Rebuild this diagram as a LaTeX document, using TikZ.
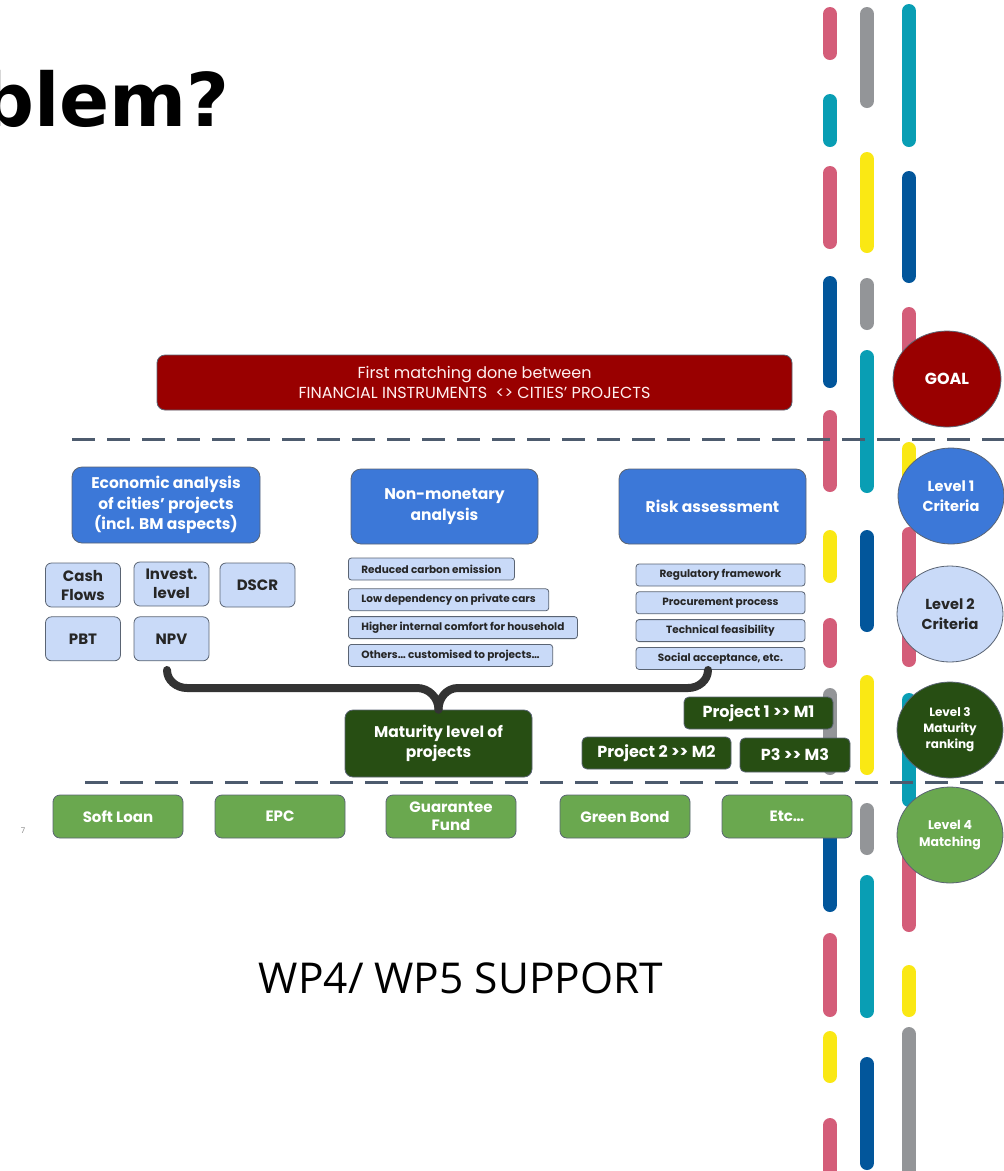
\documentclass[tikz,border=0pt]{standalone}
\usepackage{fontspec}
\setmainfont{Open Sans}
\newfontfamily\gothic{Poppins}
\newfontfamily\headfont{DejaVu Sans}
\usepackage{tikz}
\usetikzlibrary{shapes,positioning}
\definecolor{goalred}{RGB}{153, 0, 0}
\definecolor{critblue}{RGB}{60, 120, 216}
\definecolor{critlight}{RGB}{201, 218, 248}
\definecolor{darkgreen}{RGB}{39, 78, 19}
\definecolor{lightgreen}{RGB}{106, 168, 79}
\definecolor{edgegray}{RGB}{90, 100, 115}
\definecolor{dashgray}{RGB}{77, 91, 110}
\definecolor{bracegray}{RGB}{51, 51, 51}
\definecolor{stpink}{RGB}{212, 93, 121}
\definecolor{stteal}{RGB}{9, 158, 180}
\definecolor{stgray}{RGB}{147, 149, 152}
\definecolor{styellow}{RGB}{250, 232, 20}
\definecolor{stblue}{RGB}{2, 86, 155}
\tikzstyle{goalbox} = [rectangle, rounded corners=8pt, draw=edgegray, line width=0.8pt, fill=goalred, text=red!6, align=center, font=\gothic\fontsize{16}{20}\selectfont, minimum width=635pt, minimum height=55pt, inner sep=0pt]
\tikzstyle{critbox} = [rectangle, rounded corners=10pt, draw=edgegray, line width=0.8pt, fill=critblue, text=white, align=center, font=\gothic\bfseries\fontsize{15.5}{20.5}\selectfont, minimum width=187pt, minimum height=75pt, inner sep=0pt]
\tikzstyle{subbox} = [rectangle, rounded corners=6pt, draw=edgegray, line width=0.8pt, fill=critlight, text=black!85, align=center, font=\gothic\bfseries\fontsize{15}{19}\selectfont, minimum width=75pt, minimum height=44pt, inner sep=0pt]
\tikzstyle{itembox} = [rectangle, rounded corners=3pt, draw=edgegray, line width=0.8pt, fill=critlight, text=black!85, font=\gothic\bfseries\fontsize{10.5}{12}\selectfont, minimum height=22pt, inner ysep=0pt, inner xsep=13pt]
\tikzstyle{matbox} = [rectangle, rounded corners=8pt, draw=edgegray, line width=0.8pt, fill=darkgreen, text=white, align=center, font=\gothic\bfseries\fontsize{15.5}{20}\selectfont, inner sep=0pt]
\tikzstyle{instbox} = [rectangle, rounded corners=7pt, draw=edgegray, line width=0.8pt, fill=lightgreen, text=white, align=center, font=\gothic\bfseries\fontsize{15}{18}\selectfont, minimum width=130pt, minimum height=43pt, inner sep=0pt]
\tikzstyle{levelnode} = [ellipse, draw=edgegray, line width=0.8pt, minimum width=106pt, minimum height=96pt, inner sep=0pt, align=center, text=white, font=\gothic\bfseries\fontsize{14.5}{20}\selectfont]
\tikzstyle{stripe} = [line width=14pt, line cap=round]
\tikzstyle{levelline} = [draw=dashgray, line width=3pt, dash pattern=on 23pt off 12pt]
\tikzstyle{brace} = [draw=bracegray, line width=8pt, line cap=round, line join=round]

\begin{document}
\begin{tikzpicture}[x=1pt, y=-1pt]
\useasboundingbox (0,0) rectangle (1004,1171);

% stripes =============================

% left column
\draw[stripe, stpink] (830,14) -- (830,53);
\draw[stripe, stteal] (830,101) -- (830,140);
\draw[stripe, stpink] (830,173) -- (830,242);
\draw[stripe, stblue] (830,283) -- (830,381);
\draw[stripe, stpink] (830,417) -- (830,485);
\draw[stripe, styellow] (830,537) -- (830,576);
\draw[stripe, stpink] (830,625) -- (830,661);
\draw[stripe, stgray] (830,695) -- (830,768);
\draw[stripe, stblue] (830,815) -- (830,905);
\draw[stripe, stpink] (830,940) -- (830,1010);
\draw[stripe, styellow] (830,1038) -- (830,1076);
\draw[stripe, stpink] (830,1125) -- (830,1180);

% middle column
\draw[stripe, stgray] (867,14) -- (867,101);
\draw[stripe, styellow] (867,159) -- (867,246);
\draw[stripe, stgray] (867,285) -- (867,323);
\draw[stripe, stteal] (867,357) -- (867,486);
\draw[stripe, stblue] (867,537) -- (867,625);
\draw[stripe, styellow] (867,682) -- (867,768);
\draw[stripe, stgray] (867,810) -- (867,848);
\draw[stripe, stteal] (867,882) -- (867,1011);
\draw[stripe, stblue] (867,1064) -- (867,1163);

% right column
\draw[stripe, stteal] (909,11) -- (909,140);
\draw[stripe, stblue] (909,178) -- (909,276);
\draw[stripe, stpink] (909,314) -- (909,360);
\draw[stripe, styellow] (909,449) -- (909,490);
\draw[stripe, stpink] (909,534) -- (909,660);
\draw[stripe, stteal] (909,700) -- (909,800);
\draw[stripe, stpink] (909,835) -- (909,925);
\draw[stripe, styellow] (909,972) -- (909,1010);
\draw[stripe, stgray] (909,1034) -- (909,1180);

% level separators
\draw[levelline] (72,439) -- (1004,439);
\draw[levelline] (85,782) -- (1004,782);

% title and captions
\node[anchor=base east, inner sep=0pt, font=\headfont\bfseries\fontsize{74}{74}\selectfont] (title) at (230,126) {blem?};
\node[text=black!45, font=\gothic\fontsize{8}{8}\selectfont] (pageno) at (23,831) {7};
\node[font=\fontsize{42.5}{42.5}\selectfont] (support) at (461,978) {WP4/ WP5 SUPPORT};

% goal =============================
\node[goalbox] (goal) at (474.5,382.5) {First matching done between\\FINANCIAL INSTRUMENTS\ \ <> CITIES’ PROJECTS};

% level 1 criteria
\node[critbox, minimum width=188pt, minimum height=76pt] (econ) at (166,505) {Economic analysis\\of cities’ projects\\(incl. BM aspects)};
\node[critbox] (nonmon) at (444.5,506.5) {Non-monetary\\analysis};
\node[critbox] (risk) at (712.5,506.5) {Risk assessment};

% level 2 criteria
\node[subbox] (cash) at (83,585) {Cash\\Flows};
\node[subbox] (invest) at (171.5,584) {Invest.\\level};
\node[subbox] (dscr) at (257.5,585) {DSCR};
\node[subbox, below=9pt of cash] (pbt) {PBT};
\node[subbox, below=10pt of invest] (npv) {NPV};

\node[itembox, anchor=west] (carbon) at (348,569) {Reduced carbon emission};
\node[itembox, below=8pt of carbon.south west, anchor=north west] (cars) {Low dependency on private cars};
\node[itembox, below=5pt of cars.south west, anchor=north west] (comfort) {Higher internal comfort for household};
\node[itembox, below=5pt of comfort.south west, anchor=north west] (others) {Others… customised to projects…};

\node[itembox, minimum width=169pt, inner xsep=0pt] (regul) at (720.5,575) {Regulatory framework};
\node[itembox, minimum width=169pt, inner xsep=0pt, below=5pt of regul] (procure) {Procurement process};
\node[itembox, minimum width=169pt, inner xsep=0pt, below=5pt of procure] (techfeas) {Technical feasibility};
\node[itembox, minimum width=169pt, inner xsep=0pt, below=5pt of techfeas] (social) {Social acceptance, etc.};

% level 3 maturity
\node[matbox, minimum width=187pt, minimum height=67pt] (mat) at (438.5,743.5) {Maturity level of\\projects};
\node[matbox, rounded corners=5pt, minimum width=149pt, minimum height=32pt, font=\gothic\bfseries\fontsize{16}{20}\selectfont] (proj1) at (758.5,713) {Project 1 >> M1};
\node[matbox, rounded corners=5pt, minimum width=149pt, minimum height=32pt, font=\gothic\bfseries\fontsize{16}{20}\selectfont] (proj2) at (656.5,753) {Project 2 >> M2};
\node[matbox, rounded corners=5pt, minimum width=110pt, minimum height=34pt, font=\gothic\bfseries\fontsize{16}{20}\selectfont] (proj3) at (795,755) {P3 >> M3};

% brace
\draw[brace] (167,670) to[out=-90, in=180] (187,688) -- (417,688) to[out=0, in=90] (mat.north);
\draw[brace] (708,670) to[out=-90, in=0] (688,688) -- (458,688) to[out=180, in=90] (mat.north);

% level 4 matching
\node[instbox] (soft) at (118,816.5) {Soft Loan};
\node[instbox] (epc) at (280,816.5) {EPC};
\node[instbox] (guar) at (451,816.5) {Guarantee\\Fund};
\node[instbox] (green) at (625,816.5) {Green Bond};
\node[instbox] (etc) at (787,816.5) {Etc…};

% level markers
\node[levelnode, fill=goalred, minimum width=108pt, font=\gothic\bfseries\fontsize{16}{20}\selectfont] (lgoal) at (947,379) {GOAL};
\node[levelnode, fill=critblue] (lone) at (951,496) {Level 1\\Criteria};
\node[levelnode, fill=critlight, text=black!85] (ltwo) at (950,614) {Level 2\\Criteria};
\node[levelnode, fill=darkgreen, font=\gothic\bfseries\fontsize{12}{16}\selectfont] (lthree) at (950,730) {Level 3\\Maturity\\ranking};
\node[levelnode, fill=lightgreen, font=\gothic\bfseries\fontsize{12.5}{17}\selectfont] (lfour) at (950,835) {Level 4\\Matching};

\end{tikzpicture}
\end{document}
